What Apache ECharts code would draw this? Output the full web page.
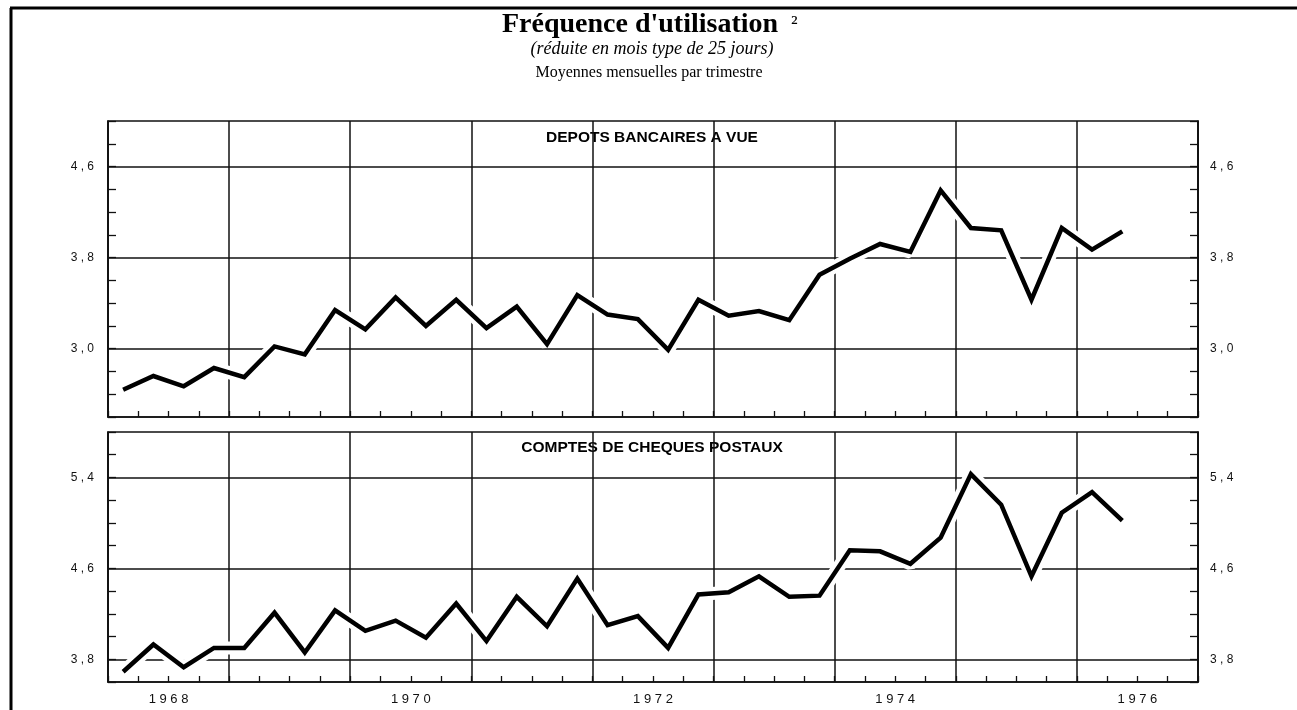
<!DOCTYPE html>
<html><head><meta charset="utf-8">
<script src="https://cdn.jsdelivr.net/npm/echarts@6/dist/echarts.min.js"></script>
<style>html,body{margin:0;padding:0;background:#fff}#c{width:1297px;height:710px}</style>
</head><body><div id="c"></div>
<script>
// ---- data (quarterly averages, 1968 Q1 .. 1976 Q2) ----
const startYear = 1968;
const endYear = 1977;
const labelYears = [1968, 1970, 1972, 1974, 1976];
const depots = [2.64,2.76,2.67,2.83,2.75,3.02,2.95,3.34,3.17,3.45,3.20,3.43,3.18,3.37,3.04,3.47,3.30,3.26,2.99,3.43,3.29,3.33,3.25,3.65,3.79,3.92,3.85,4.39,4.06,4.04,3.43,4.06,3.87,4.03];
const cheques = [3.69,3.93,3.73,3.90,3.90,4.21,3.86,4.23,4.05,4.14,3.99,4.29,3.96,4.35,4.09,4.51,4.10,4.18,3.90,4.37,4.39,4.53,4.35,4.36,4.76,4.75,4.64,4.87,5.43,5.16,4.53,5.09,5.27,5.02];
const depotsTicks = [3.0, 3.8, 4.6];
const chequesTicks = [3.8, 4.6, 5.4];
const depotsRange = [2.4, 5.0];
const chequesRange = [3.6, 5.8];
const title = "Fréquence d'utilisation";
const subtitle1 = "(réduite en mois type de 25 jours)";
const subtitle2 = "Moyennes mensuelles par trimestre";
const panel1 = "DEPOTS BANCAIRES A VUE";
const panel2 = "COMPTES DE CHEQUES POSTAUX";

// ---- helpers ----
const toPoints = arr => arr.map((v, i) => [startYear + (i + 0.5) / 4, v]);
const spaced = s => s.split('').join(' ');
const fmtVal = v => spaced(v.toFixed(1).replace('.', ','));
const near = (a, b) => Math.abs(a - b) < 1e-6;
const T = 'rgba(0,0,0,0)';
function yColors(range, ticks) {
  const out = [];
  for (let k = 0; range[0] + k * 0.2 <= range[1] + 1e-6; k++) {
    const v = range[0] + k * 0.2;
    out.push(ticks.some(t => near(t, v)) ? '#111' : T);
  }
  return out;
}
function xColors() {
  const out = [];
  for (let k = 0; startYear + k * 0.25 <= endYear + 1e-6; k++) out.push(k % 4 === 0 ? '#111' : T);
  return out;
}
const labelFont = { fontFamily: '"Liberation Sans", Arial, sans-serif', fontSize: 12, color: '#111' };

function yAxis(gi, range, ticks, pos) {
  return {
    type: 'value', gridIndex: gi, position: pos, min: range[0], max: range[1], interval: 0.2,
    axisLine: { show: true, lineStyle: { color: '#111', width: 1.5 } },
    axisTick: { show: true, inside: true, length: 8, lineStyle: { color: '#111', width: 1.3 } },
    axisLabel: Object.assign({
      margin: pos === 'left' ? 14 : 12,
      formatter: v => ticks.some(t => near(t, v)) ? fmtVal(v) : ''
    }, labelFont),
    splitLine: pos === 'left' ? { show: true, lineStyle: { color: yColors(range, ticks), width: 1.5 } } : { show: false }
  };
}
function xAxis(gi, showLabels) {
  return {
    type: 'value', gridIndex: gi, position: 'bottom', min: startYear, max: endYear, interval: 0.25,
    axisLine: { show: true, lineStyle: { color: '#111', width: 1.5 } },
    axisTick: { show: true, inside: true, length: 6, lineStyle: { color: '#111', width: 1.3 } },
    axisLabel: Object.assign({
      show: showLabels, margin: 11, showMinLabel: true, showMaxLabel: true,
      formatter: v => {
        const y = Math.floor(v);
        return (near(v - y, 0.5) && labelYears.includes(y)) ? spaced(String(y)) : '';
      }
    }, labelFont, { fontSize: 13 }),
    splitLine: { show: true, lineStyle: { color: xColors(), width: 1.5 } }
  };
}
function seriesPair(gi, data) {
  const pts = toPoints(data);
  return [
    { type: 'line', xAxisIndex: gi, yAxisIndex: gi * 2, data: pts, symbol: 'none', silent: true,
      lineStyle: { color: '#fff', width: 13 }, z: 2 },
    { type: 'line', xAxisIndex: gi, yAxisIndex: gi * 2, data: pts, symbol: 'none', silent: true,
      lineStyle: { color: '#000', width: 4.5, join: 'miter' }, z: 3 }
  ];
}

const chart = echarts.init(document.getElementById('c'), null, { renderer: 'canvas' });
chart.setOption({
  animation: false,
  backgroundColor: '#fff',
  grid: [
    { left: 108, top: 121, width: 1090, height: 296, show: true, borderColor: '#111', borderWidth: 1.5, backgroundColor: T },
    { left: 108, top: 432, width: 1090, height: 250, show: true, borderColor: '#111', borderWidth: 1.5, backgroundColor: T }
  ],
  xAxis: [xAxis(0, false), xAxis(1, true)],
  yAxis: [
    yAxis(0, depotsRange, depotsTicks, 'left'), yAxis(0, depotsRange, depotsTicks, 'right'),
    yAxis(1, chequesRange, chequesTicks, 'left'), yAxis(1, chequesRange, chequesTicks, 'right')
  ],
  series: [...seriesPair(0, depots), ...seriesPair(1, cheques)],
  graphic: [
    { type: 'line', shape: { x1: 10, y1: 8, x2: 1297, y2: 8 }, style: { stroke: '#000', lineWidth: 3 } },
    { type: 'line', shape: { x1: 11, y1: 8, x2: 11, y2: 710 }, style: { stroke: '#000', lineWidth: 3 } },
    { type: 'text', x: 640, y: 25, style: { text: title, align: 'center', verticalAlign: 'middle',
        font: 'bold 28px "Liberation Serif", serif', fill: '#000' } },
    { type: 'text', x: 791, y: 24, style: { text: '²', align: 'left', verticalAlign: 'middle',
        font: '22px "Liberation Serif", serif', fill: '#000' } },
    { type: 'text', x: 652, y: 49, style: { text: subtitle1, align: 'center', verticalAlign: 'middle',
        font: 'italic 18px "Liberation Serif", serif', fill: '#000' } },
    { type: 'text', x: 649, y: 73, style: { text: subtitle2, align: 'center', verticalAlign: 'middle',
        font: '16px "Liberation Serif", serif', fill: '#000' } },
    { type: 'text', x: 652, y: 138, style: { text: panel1, align: 'center', verticalAlign: 'middle',
        font: 'bold 15.5px "Liberation Sans", Arial, sans-serif', fill: '#000' } },
    { type: 'text', x: 652, y: 448, style: { text: panel2, align: 'center', verticalAlign: 'middle',
        font: 'bold 15.5px "Liberation Sans", Arial, sans-serif', fill: '#000' } }
  ]
});
</script></body></html>
